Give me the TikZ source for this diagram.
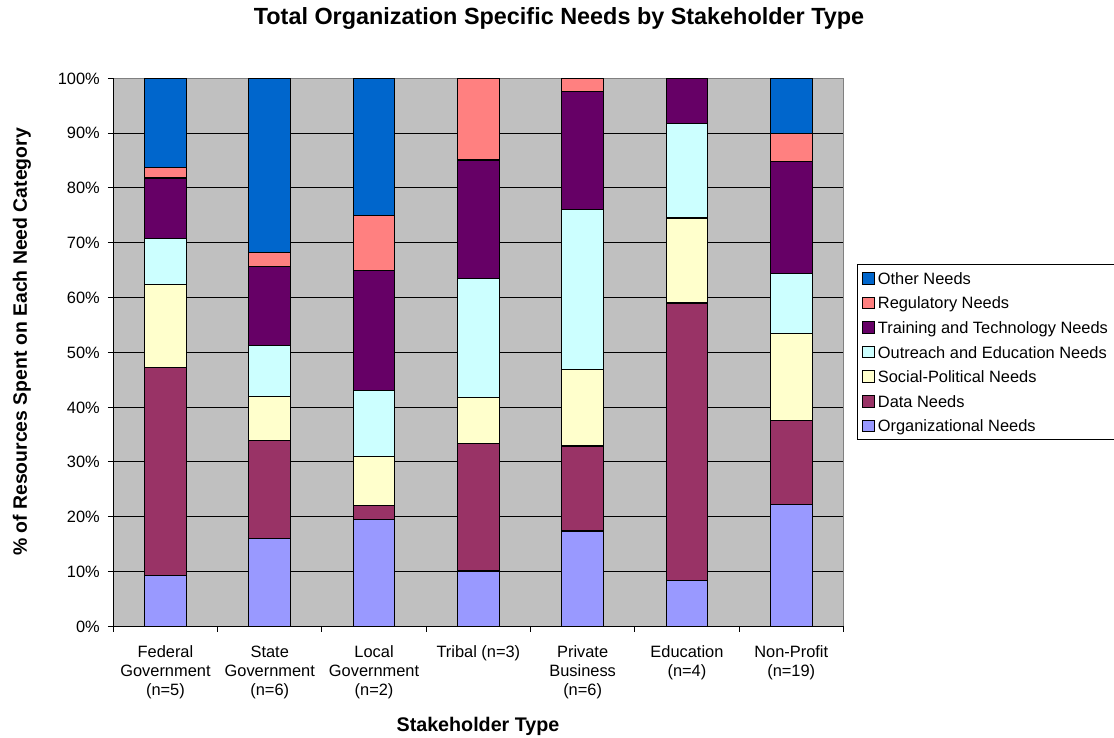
\documentclass[tikz,border=0pt]{standalone}
\usepackage{fontspec}
\setmainfont{Liberation Sans}
\definecolor{cother}{HTML}{0066CC}
\definecolor{creg}{HTML}{FF8080}
\definecolor{ctrain}{HTML}{660066}
\definecolor{cout}{HTML}{CCFFFF}
\definecolor{csoc}{HTML}{FFFFCC}
\definecolor{cdata}{HTML}{993366}
\definecolor{corg}{HTML}{9999FF}
\definecolor{cbg}{HTML}{C0C0C0}
\definecolor{cframe}{HTML}{808080}
\newcommand{\ticksz}{\fontsize{16.4}{19}\selectfont}
\newcommand{\ypx}[1]{626.3-5.48*#1}
\newcommand{\stackbar}[8]{%
  \pgfmathsetmacro{\bl}{113.3+104.3*#1+31.3}%
  \pgfmathsetmacro{\br}{\bl+41.7}%
  \draw[barseg,fill=corg]   (\bl,{\ypx{0}})  rectangle (\br,{\ypx{#2}});
  \draw[barseg,fill=cdata]  (\bl,{\ypx{#2}}) rectangle (\br,{\ypx{#3}});
  \draw[barseg,fill=csoc]   (\bl,{\ypx{#3}}) rectangle (\br,{\ypx{#4}});
  \draw[barseg,fill=cout]   (\bl,{\ypx{#4}}) rectangle (\br,{\ypx{#5}});
  \draw[barseg,fill=ctrain] (\bl,{\ypx{#5}}) rectangle (\br,{\ypx{#6}});
  \draw[barseg,fill=creg]   (\bl,{\ypx{#6}}) rectangle (\br,{\ypx{#7}});
  \draw[barseg,fill=cother] (\bl,{\ypx{#7}}) rectangle (\br,{\ypx{#8}});
}
\tikzset{
  barseg/.style={draw=black,line width=1.1pt},
  gridline/.style={draw=black,line width=0.9pt},
  axisline/.style={draw=black,line width=1pt},
  ticklabel/.style={font=\ticksz,inner sep=0pt},
  catlabel/.style={font=\ticksz,inner sep=0pt,align=center,anchor=north},
  legtext/.style={font=\ticksz,inner sep=0pt,anchor=base west},
  swatch/.style={draw=black,line width=0.9pt},
}
\begin{document}
\begin{tikzpicture}[x=1pt,y=-1pt]
\useasboundingbox (0,0) rectangle (1114,738);
\fill[white] (0,0) rectangle (1114,738);
% plot area
\fill[cbg] (113.3,78.3) rectangle (843.3,626.3);
\foreach \k in {1,...,10}{
  \draw[gridline] (113.3,{\ypx{10*\k}}) -- (843.3,{\ypx{10*\k}});
}
\draw[cframe,line width=1pt] (113.3,78.3) -- (843.3,78.3) -- (843.3,626.3);
% bars
\stackbar{0}{9.2}{47.3}{62.4}{70.7}{81.8}{83.8}{100}
\stackbar{1}{16.1}{33.9}{42.0}{51.2}{65.6}{68.2}{100}
\stackbar{2}{19.5}{22.1}{31.0}{43.0}{65.0}{75.0}{100}
\stackbar{3}{10.1}{33.4}{41.7}{63.4}{85.1}{100}{100}
\stackbar{4}{17.4}{32.9}{46.8}{76.0}{97.6}{100}{100}
\stackbar{5}{8.3}{59.0}{74.5}{91.8}{100}{100}{100}
\stackbar{6}{22.3}{37.5}{53.5}{64.3}{84.8}{90.0}{100}
% axes
\draw[axisline] (113.3,78.3) -- (113.3,626.3) -- (843.3,626.3);
\foreach \k in {0,...,10}{
  \draw[axisline] (107.8,{\ypx{10*\k}}) -- (113.3,{\ypx{10*\k}});
}
\foreach \i in {0,...,7}{
  \draw[axisline] ({113.3+104.3*\i},626.3) -- ({113.3+104.3*\i},631.8);
}
% tick labels
\node[ticklabel,anchor=base east] (t0) at (100,{\ypx{0}+5.9}) {0\%};
\foreach \k in {1,...,10}{
  \node[ticklabel,anchor=base east] (t\k) at (100,{\ypx{10*\k}+5.9}) {\k0\%};
}
% category labels
\node[catlabel] (c0) at ({113.3+104.3*0.5},645.6) {Federal\\Government\\(n=5)};
\node[catlabel] (c1) at ({113.3+104.3*1.5},645.6) {State\\Government\\(n=6)};
\node[catlabel] (c2) at ({113.3+104.3*2.5},645.6) {Local\\Government\\(n=2)};
\node[catlabel] (c3) at ({113.3+104.3*3.5},645.6) {Tribal (n=3)};
\node[catlabel] (c4) at ({113.3+104.3*4.5},645.6) {Private\\Business\\(n=6)};
\node[catlabel] (c5) at ({113.3+104.3*5.5},645.6) {Education\\(n=4)};
\node[catlabel] (c6) at ({113.3+104.3*6.5},645.6) {Non-Profit\\(n=19)};
% titles
\node[font=\fontsize{23.4}{28}\selectfont\bfseries,inner sep=0pt,anchor=base] (title) at (559,25) {Total Organization Specific Needs by Stakeholder Type};
\node[font=\fontsize{19.7}{23}\selectfont\bfseries,inner sep=0pt,anchor=base] (xtitle) at (478,731) {Stakeholder Type};
\node[font=\fontsize{19.4}{23}\selectfont\bfseries,inner sep=0pt,anchor=base,rotate=90] (ytitle) at (27,342) {\% of Resources Spent on Each Need Category};
% legend
\draw[black,line width=0.9pt,fill=white] (857,264) rectangle (1116,439);
\foreach \n/\c/\t in {0/cother/Other Needs,1/creg/Regulatory Needs,2/ctrain/Training and Technology Needs,3/cout/Outreach and Education Needs,4/csoc/Social-Political Needs,5/cdata/Data Needs,6/corg/Organizational Needs}{
  \draw[swatch,fill=\c] (862.7,{278.3+24.6*\n-5.8}) rectangle (874.3,{278.3+24.6*\n+5.8});
  \node[legtext] (l\n) at (877.7,{284.2+24.6*\n}) {\t};
}
\end{tikzpicture}
\end{document}
